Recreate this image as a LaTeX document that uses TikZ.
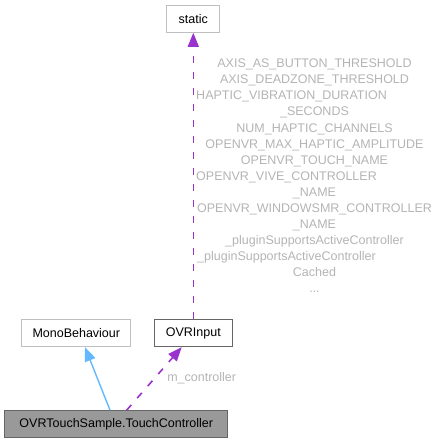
\documentclass[tikz,border=0pt]{standalone}
\usepackage{fontspec}
\setmainfont{Liberation Sans}
\usetikzlibrary{arrows.meta}
\definecolor{lgrey}{HTML}{BFBFBF}
\definecolor{dgrey}{HTML}{666666}
\definecolor{fillgrey}{HTML}{999999}
\definecolor{lblgrey}{HTML}{B4B4B4}
\definecolor{steel}{HTML}{63B8FF}
\definecolor{orchid}{HTML}{9A32CD}
\begin{document}
\begin{tikzpicture}[x=1pt,y=-1pt,
  box/.style={draw=lgrey,line width=1pt,fill=white,rectangle,inner sep=0pt,minimum height=27.3pt,font=\fontsize{12.5}{15}\selectfont},
  docbox/.style={box,draw=dgrey},
  mainbox/.style={box,draw=dgrey,fill=fillgrey},
  usage/.style={draw=orchid,line width=1.6pt,dash pattern=on 7pt off 9pt,-{Triangle[length=14pt,width=11pt]}},
  inherit/.style={draw=steel,line width=1.4pt,-{Triangle[length=14pt,width=11pt]}},
  lbl/.style={text=lblgrey,inner sep=0pt,font=\fontsize{12.5}{16.05}\selectfont}]
\useasboundingbox (0,0) rectangle (440,443);
\node[box,minimum width=53.3pt] (static) at (193.3,18.7) {static};
\node[box,minimum width=109.3pt] (mono) at (76.3,333) {MonoBehaviour};
\node[docbox,minimum width=78pt] (ovr) at (193.3,333) {OVRInput};
\node[mainbox,minimum width=222.7pt,minimum height=26.7pt] (tc) at (116.3,424) {OVRTouchSample.TouchController};
\draw[inherit] ([xshift=-6.3pt]tc.north) -- ([xshift=8.7pt]mono.south);
\draw[usage] ([xshift=10.4pt]tc.north) -- ([xshift=-11.6pt]ovr.south);
\draw[usage] (ovr.north) -- (static.south);
\node[lbl] (mlbl) at (201.7,378.3) {m\_controller};
\node[lbl,align=center] (slbl) at (314.5,175.8) {AXIS\_AS\_BUTTON\_THRESHOLD\\
AXIS\_DEADZONE\_THRESHOLD\\
\mbox{HAPTIC\_VIBRATION\_DURATION\kern46pt}\\
\_SECONDS\\
NUM\_HAPTIC\_CHANNELS\\
OPENVR\_MAX\_HAPTIC\_AMPLITUDE\\
OPENVR\_TOUCH\_NAME\\
\mbox{OPENVR\_VIVE\_CONTROLLER\kern56pt}\\
\_NAME\\
OPENVR\_WINDOWSMR\_CONTROLLER\\
\_NAME\\
\_pluginSupportsActiveController\\
\mbox{\_pluginSupportsActiveController\kern56pt}\\
Cached\\
...};
\end{tikzpicture}
\end{document}
